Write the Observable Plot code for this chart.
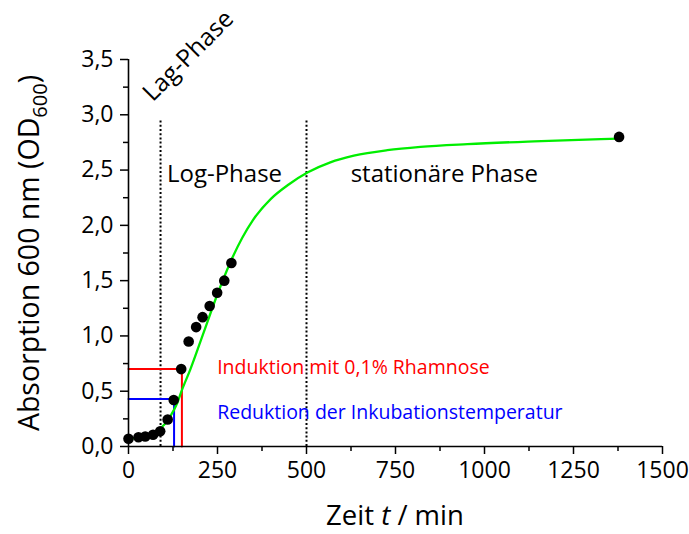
<!DOCTYPE html>
<html><head><meta charset="utf-8">
<script src="https://cdn.jsdelivr.net/npm/d3@7"></script>
<script src="https://cdn.jsdelivr.net/npm/@observablehq/plot@0.6"></script>
<style>body{margin:0;background:#fff;} svg{display:block}</style>
</head><body><div id="chart"></div>
<script>
// measured points
const time = [0, 28, 47, 69, 89, 110, 127, 148, 169, 190, 208, 228, 249, 269, 289, 1378];
const od   = [0.07, 0.084, 0.09, 0.106, 0.138, 0.244, 0.42, 0.70, 0.95, 1.08, 1.17, 1.27, 1.39, 1.50, 1.66, 2.80];
// fitted growth curve
const fitTime = [0, 33, 70, 89, 117, 136, 150, 174, 211, 249, 288, 320, 350, 400, 450, 504, 567, 633, 727, 820, 952, 1139, 1327, 1378];
const fitOD   = [0.065, 0.09, 0.124, 0.16, 0.27, 0.386, 0.51, 0.70, 1.03, 1.37, 1.68, 1.89, 2.05, 2.24, 2.37, 2.48, 2.57, 2.63, 2.68, 2.71, 2.735, 2.76, 2.78, 2.785];
// phase boundaries
const phaseBounds = [90, 500];
const phaseTop = 2.96;
// markers
const inductionT = 150, inductionOD = 0.70;
const reductionT = 128, reductionOD = 0.43;
// ticks
const xTicks = [0, 250, 500, 750, 1000, 1250, 1500];
const xMinor = [125, 375, 625, 875, 1125, 1375];
const yTicks = [0, 0.5, 1.0, 1.5, 2.0, 2.5, 3.0, 3.5];
const yMinor = [0.25, 0.75, 1.25, 1.75, 2.25, 2.75, 3.25];
// annotation texts
const phaseLabels = [
  {text: "Log-Phase", t: 108, v: 2.388},
  {text: "stationäre Phase", t: 624, v: 2.388}
];
const lagLabel = [{text: "Lag-Phase", t: 68, v: 3.11}];
const noteLabels = [
  {text: "Induktion mit 0,1% Rhamnose", t: 249, v: 0.657, color: "#ff0000"},
  {text: "Reduktion der Inkubationstemperatur", t: 249, v: 0.25, color: "#0000ff"}
];

const points = time.map((t, i) => ({t, v: od[i]}));
const fit = fitTime.map((t, i) => ({t, v: fitOD[i]}));
const redPath = [{t: 0, v: inductionOD}, {t: inductionT, v: inductionOD}, {t: inductionT, v: 0}];
const bluePath = [{t: 0, v: reductionOD}, {t: reductionT, v: reductionOD}, {t: reductionT, v: 0}];
const fmt = d => d.toFixed(1).replace(".", ",");

const W = 689, H = 534;
const chart = Plot.plot({
  width: W, height: H,
  marginLeft: 128, marginRight: 27, marginTop: 59, marginBottom: 88,
  style: {fontFamily: "'Open Sans', sans-serif", fontSize: "23px", color: "#000", background: "#fff"},
  x: {domain: [0, 1500], label: null},
  y: {domain: [0, 3.5], label: null},
  marks: [
    Plot.ruleX(phaseBounds, {x: d => d, y1: 0, y2: phaseTop, stroke: "#000", strokeWidth: 2, strokeDasharray: "2,2.2"}),
    Plot.line(redPath, {x: "t", y: "v", stroke: "#ff0000", strokeWidth: 2}),
    Plot.line(bluePath, {x: "t", y: "v", stroke: "#0000ff", strokeWidth: 2}),
    Plot.line(fit, {x: "t", y: "v", stroke: "#00ee00", strokeWidth: 2.3, curve: "monotone-x"}),
    Plot.dot(points, {x: "t", y: "v", r: 5.3, fill: "#000", stroke: "none"}),
    Plot.axisX({ticks: xTicks, tickSize: 8, tickPadding: 7, tickFormat: d => String(d), label: null, strokeWidth: 1.5}),
    Plot.axisX({ticks: xMinor, tickSize: 5, tickFormat: () => "", label: null, strokeWidth: 1.5}),
    Plot.axisY({ticks: yTicks, tickSize: 8, tickPadding: 7, tickFormat: fmt, label: null, strokeWidth: 1.5}),
    Plot.axisY({ticks: yMinor, tickSize: 5, tickFormat: () => "", label: null, strokeWidth: 1.5}),
    Plot.ruleY([0], {stroke: "#000", strokeWidth: 1.6}),
    Plot.ruleX([0], {stroke: "#000", strokeWidth: 1.6}),
    Plot.text(phaseLabels, {x: "t", y: "v", text: "text", textAnchor: "start", lineAnchor: "bottom", fontSize: 24, fill: "#000"}),
    Plot.text(lagLabel, {x: "t", y: "v", text: "text", textAnchor: "start", lineAnchor: "bottom", fontSize: 24.5, rotate: -45, fill: "#000"}),
    Plot.text(noteLabels, {x: "t", y: "v", text: "text", textAnchor: "start", lineAnchor: "bottom", fontSize: 19.5, fill: d => d.color})
  ]
});
document.getElementById("chart").append(chart);

// axis titles with italic / subscript parts
const svg = d3.select(chart);
const xt = svg.append("text")
  .attr("x", 395).attr("y", 525).attr("text-anchor", "middle")
  .attr("font-family", "'Open Sans', sans-serif").attr("font-size", 27.5).attr("fill", "#000");
xt.append("tspan").text("Zeit ");
xt.append("tspan").attr("font-style", "italic").text("t");
xt.append("tspan").text(" / min");

const yt = svg.append("text")
  .attr("transform", "translate(39,253) rotate(-90)").attr("text-anchor", "middle")
  .attr("font-family", "'Open Sans', sans-serif").attr("font-size", 28.5).attr("fill", "#000");
yt.append("tspan").text("Absorption 600 nm (OD");
yt.append("tspan").attr("font-size", 20).attr("dy", 8).text("600");
yt.append("tspan").attr("dy", -8).text(")");
</script>
</body></html>
